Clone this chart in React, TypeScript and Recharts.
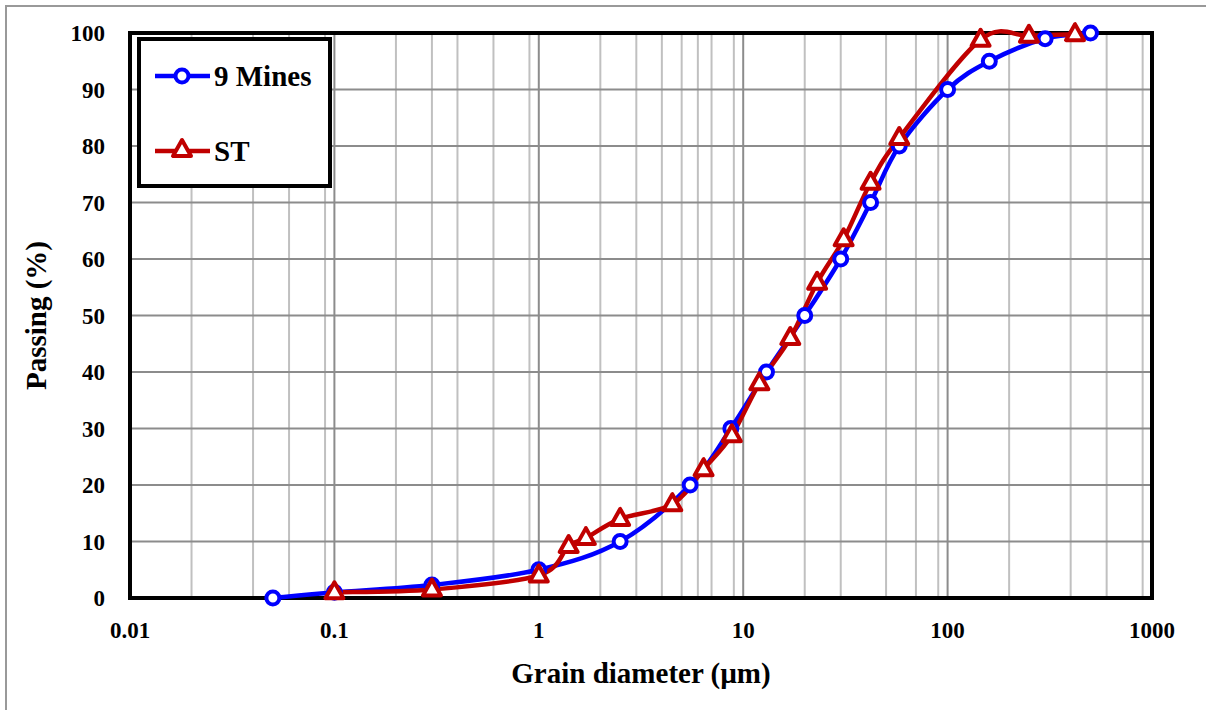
import React from 'react';
import { LineChart, Line, XAxis, YAxis, CartesianGrid, ReferenceArea } from 'recharts';

// grain size distribution
const nineMinesSize = [0.05, 0.1, 0.3, 1, 2.5, 5.5, 8.7, 13, 20, 30, 42, 58, 100, 160, 300, 500];
const nineMinesPassing = [0, 1, 2.3, 5, 10, 20, 30, 40, 50, 60, 70, 80, 90, 95, 99, 100];

const stSize = [0.1, 0.3, 1, 1.4, 1.7, 2.5, 4.5, 6.4, 8.8, 12, 17, 23, 31, 42, 58, 145, 250, 420];
const stPassing = [1, 1.5, 4, 9.2, 10.6, 14, 16.6, 22.8, 28.8, 38, 46, 55.8, 63.5, 73.5, 81.4, 98.8, 99.5, 99.8];

const decadeTicks = [0.01, 0.1, 1, 10, 100, 1000];
const minorMultipliers = [2, 3, 4, 5, 6, 7, 8, 9];
const yTicks = [0, 10, 20, 30, 40, 50, 60, 70, 80, 90, 100];

const minorTicks = decadeTicks.slice(0, -1).flatMap(d => minorMultipliers.map(m => +(d * m).toPrecision(3)));

const nineMines = nineMinesSize.map((size, i) => ({ size, passing: nineMinesPassing[i] }));
const st = stSize.map((size, i) => ({ size, passing: stPassing[i] }));

const BLUE = '#0000ff';
const RED = '#c00000';
const FONT = "'Liberation Serif', 'Times New Roman', Times, serif";

// Excel-like smoothed line (uniform Catmull-Rom through the points)
const smoothCurve = (context: any) => {
    let pts: number[][] = [];
    return {
        areaStart() {},
        areaEnd() {},
        lineStart() { pts = []; },
        point(x: number, y: number) { pts.push([x, y]); },
        lineEnd() {
            if (!pts.length) return;
            context.moveTo(pts[0][0], pts[0][1]);
            for (let i = 0; i < pts.length - 1; i++) {
                const p0 = pts[i - 1] || pts[i];
                const p1 = pts[i];
                const p2 = pts[i + 1];
                const p3 = pts[i + 2] || p2;
                context.bezierCurveTo(
                    p1[0] + (p2[0] - p0[0]) / 6, p1[1] + (p2[1] - p0[1]) / 6,
                    p2[0] - (p3[0] - p1[0]) / 6, p2[1] - (p3[1] - p1[1]) / 6,
                    p2[0], p2[1]
                );
            }
        },
    };
};

const CircleDot = (props: any) => {
    const { cx, cy, index } = props;
    if (cx == null || cy == null) return <g key={`c-${index}`} />;
    return <circle key={`c-${index}`} cx={cx} cy={cy} r={6.5} fill="#fff" stroke={BLUE} strokeWidth={4} />;
};

const triPoints = (cx: number, cy: number) => `${cx},${cy - 10} ${cx - 9},${cy + 6} ${cx + 9},${cy + 6}`;

const TriangleDot = (props: any) => {
    const { cx, cy, index } = props;
    if (cx == null || cy == null) return <g key={`t-${index}`} />;
    return <polygon key={`t-${index}`} points={triPoints(cx, cy)} fill="#fff" stroke={RED} strokeWidth={4} strokeLinejoin="round" />;
};

const LegendBox = () => (
    <div style={{ position: 'absolute', left: 137, top: 37, width: 195, height: 151, boxSizing: 'border-box', border: '4px solid #000', background: '#fff' }}>
        <svg width={187} height={143} style={{ position: 'absolute', left: 0, top: 0 }}>
            <line x1={14} y1={35} x2={69} y2={35} stroke={BLUE} strokeWidth={4.5} />
            <circle cx={41} cy={35} r={6.5} fill="#fff" stroke={BLUE} strokeWidth={4} />
            <text x={73} y={45} fontFamily={FONT} fontWeight="bold" fontSize={29} fill="#000">9 Mines</text>
            <line x1={14} y1={110} x2={69} y2={110} stroke={RED} strokeWidth={4.5} />
            <polygon points={triPoints(41, 109)} fill="#fff" stroke={RED} strokeWidth={4} strokeLinejoin="round" />
            <text x={73} y={120} fontFamily={FONT} fontWeight="bold" fontSize={29} fill="#000">ST</text>
        </svg>
    </div>
);

const tickStyle = { fill: '#000', fontFamily: FONT, fontWeight: 'bold' as const, fontSize: 23 };
const titleStyle = { fill: '#000', fontFamily: FONT, fontWeight: 'bold', fontSize: 29 };

export default function App() {
    return (
        <div style={{ position: 'absolute', left: 0, top: 0, width: 1206, height: 710, background: '#fff', fontFamily: FONT }}>
            <div style={{ position: 'absolute', left: 5, top: 5, right: 0, bottom: 0, borderLeft: '2px solid #999', borderTop: '2px solid #999' }} />
            <LineChart width={1206} height={710} margin={{ top: 33, right: 54, left: 0, bottom: 0 }} style={{ position: 'absolute', left: 0, top: 0 }}>
                <CartesianGrid horizontal={false} verticalValues={minorTicks} stroke="#c0c0c0" strokeWidth={2} />
                <CartesianGrid verticalValues={decadeTicks} horizontalValues={yTicks} stroke="#8c8c8c" strokeWidth={2} />
                <XAxis
                    dataKey="size"
                    type="number"
                    scale="log"
                    domain={[0.01, 1000]}
                    ticks={decadeTicks}
                    allowDataOverflow
                    height={112}
                    tickLine={false}
                    axisLine={false}
                    tickMargin={18}
                    tick={tickStyle}
                    label={{ value: 'Grain diameter (µm)', position: 'insideTop', offset: 64, style: titleStyle }}
                />
                <YAxis
                    type="number"
                    domain={[0, 100]}
                    ticks={yTicks}
                    width={130}
                    tickLine={false}
                    axisLine={false}
                    tickMargin={19}
                    tick={tickStyle}
                    label={{ value: 'Passing (%)', angle: -90, position: 'insideLeft', offset: 36, style: { ...titleStyle, textAnchor: 'middle' } }}
                />
                <ReferenceArea x1={0.01} x2={1000} y1={0} y2={100} fill="none" stroke="#000" strokeWidth={4} ifOverflow="visible" />
                <Line data={nineMines} dataKey="passing" name="9 Mines" type={smoothCurve as any} stroke={BLUE} strokeWidth={4.5} dot={CircleDot} isAnimationActive={false} />
                <Line data={st} dataKey="passing" name="ST" type={smoothCurve as any} stroke={RED} strokeWidth={4.5} dot={TriangleDot} isAnimationActive={false} />
            </LineChart>
            <LegendBox />
        </div>
    );
}
